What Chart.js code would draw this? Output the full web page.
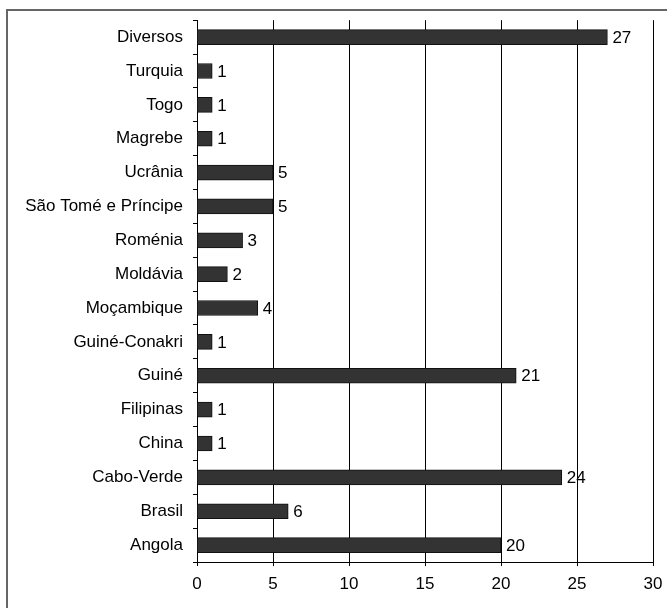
<!DOCTYPE html>
<html>
<head>
<meta charset="utf-8">
<script src="https://cdn.jsdelivr.net/npm/chart.js@4/dist/chart.umd.min.js"></script>
<style>
  html, body { margin: 0; padding: 0; background: #fff; }
  #wrap { position: relative; width: 667px; height: 608px; }
</style>
</head>
<body>
<div id="wrap"><canvas id="origem" width="667" height="608"></canvas></div>
<script>
const paises = ['Diversos', 'Turquia', 'Togo', 'Magrebe', 'Ucrânia', 'São Tomé e Príncipe',
    'Roménia', 'Moldávia', 'Moçambique', 'Guiné-Conakri', 'Guiné', 'Filipinas', 'China',
    'Cabo-Verde', 'Brasil', 'Angola'];
const totais = [27, 1, 1, 1, 5, 5, 3, 2, 4, 1, 21, 1, 1, 24, 6, 20];
const xTicks = [0, 5, 10, 15, 20, 25, 30];

const fonte = { family: '"Liberation Sans", Arial, sans-serif', size: 17 };

// moldura cinzenta à volta do gráfico
const moldura = {
    id: 'moldura',
    beforeDraw(chart) {
        const ctx = chart.ctx;
        ctx.save();
        ctx.strokeStyle = '#666';
        ctx.lineWidth = 2;
        ctx.beginPath();
        ctx.moveTo(7, 620);
        ctx.lineTo(7, 10);
        ctx.lineTo(680, 10);
        ctx.stroke();
        ctx.restore();
    }
};

// valores à direita de cada barra
const valores = {
    id: 'valores',
    afterDatasetsDraw(chart) {
        const ctx = chart.ctx;
        const meta = chart.getDatasetMeta(0);
        ctx.save();
        ctx.fillStyle = '#000';
        ctx.font = fonte.size + 'px ' + fonte.family;
        ctx.textAlign = 'left';
        ctx.textBaseline = 'middle';
        meta.data.forEach((bar, i) => {
            ctx.fillText(String(totais[i]), bar.x + 5, bar.y + 1);
        });
        ctx.restore();
    }
};

new Chart(document.getElementById('origem'), {
    type: 'bar',
    data: {
        labels: paises,
        datasets: [{
            data: totais,
            backgroundColor: '#333333',
            borderColor: '#111111',
            borderWidth: 1,
            barThickness: 15
        }]
    },
    options: {
        indexAxis: 'y',
        responsive: false,
        animation: false,
        layout: { padding: { top: 20, right: 14, left: 0, bottom: 0 } },
        scales: {
            x: {
                min: 0,
                max: 30,
                afterBuildTicks: (scale) => { scale.ticks = xTicks.map(v => ({ value: v })); },
                afterFit: (scale) => {
                    scale.height = 46;
                    scale.paddingLeft = 0;
                    scale.paddingRight = 0;
                },
                grid: { color: '#000', lineWidth: 1, tickLength: 4, drawTicks: true },
                border: { color: '#000', width: 1 },
                ticks: { color: '#000', font: fonte, padding: 8, maxRotation: 0 }
            },
            y: {
                afterFit: (scale) => { scale.width = 197; },
                grid: { drawOnChartArea: false, color: '#000', tickLength: 4, offset: true },
                border: { color: '#000', width: 1 },
                ticks: { color: '#000', font: fonte, padding: 10, autoSkip: false }
            }
        },
        plugins: {
            legend: { display: false },
            tooltip: { enabled: false }
        }
    },
    plugins: [moldura, valores]
});
</script>
</body>
</html>
